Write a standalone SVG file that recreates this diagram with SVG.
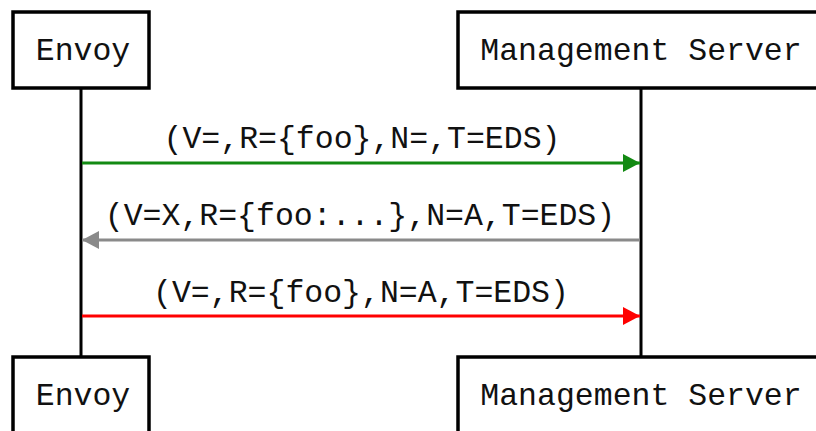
<svg xmlns="http://www.w3.org/2000/svg" width="816" height="431" viewBox="0 0 816 431">
  <style>
    .box { fill: #ffffff; stroke: #000000; stroke-width: 3.5; }
    .life { stroke: #000000; stroke-width: 3; }
    .t { font-family: "Liberation Mono", "DejaVu Sans Mono", monospace; font-size: 31.5px; fill: #111111; text-anchor: middle; }
    .msg { stroke-width: 3; fill: none; }
  </style>
  <defs>
    <marker id="headGreen" markerUnits="userSpaceOnUse" markerWidth="18" markerHeight="18" refX="17" refY="9" orient="auto">
      <path d="M0,0 L17,9 L0,18 Z" fill="#138a13"/>
    </marker>
    <marker id="headGray" markerUnits="userSpaceOnUse" markerWidth="18" markerHeight="18" refX="17" refY="9" orient="auto">
      <path d="M0,0 L17,9 L0,18 Z" fill="#8a8a8a"/>
    </marker>
    <marker id="headRed" markerUnits="userSpaceOnUse" markerWidth="18" markerHeight="18" refX="17" refY="9" orient="auto">
      <path d="M0,0 L17,9 L0,18 Z" fill="#ff0000"/>
    </marker>
  </defs>
  <rect width="816" height="431" fill="#ffffff"/>

  <!-- lifelines -->
  <g id="lifelines">
    <line class="life" x1="81" y1="88" x2="81" y2="357"/>
    <line class="life" x1="641" y1="88" x2="641" y2="357"/>
  </g>

  <!-- participants, top row -->
  <g id="envoy-top">
    <rect class="box" x="13" y="12" width="136" height="76"/>
    <text class="t" x="83" y="60">Envoy</text>
  </g>
  <g id="server-top">
    <rect class="box" x="458" y="12" width="366" height="76"/>
    <text class="t" x="641" y="60">Management Server</text>
  </g>

  <!-- participants, bottom row -->
  <g id="envoy-bottom">
    <rect class="box" x="13" y="357" width="136" height="76"/>
    <text class="t" x="83" y="405">Envoy</text>
  </g>
  <g id="server-bottom">
    <rect class="box" x="458" y="357" width="366" height="76"/>
    <text class="t" x="641" y="405">Management Server</text>
  </g>

  <!-- messages -->
  <g id="connectors">
    <line class="msg" x1="82" y1="163" x2="640" y2="163" stroke="#138a13" marker-end="url(#headGreen)"/>
    <line class="msg" x1="640" y1="240" x2="82" y2="240" stroke="#8a8a8a" marker-end="url(#headGray)"/>
    <line class="msg" x1="82" y1="316" x2="640" y2="316" stroke="#ff0000" marker-end="url(#headRed)"/>
    <text class="t" x="362" y="148">(V=,R={foo},N=,T=EDS)</text>
    <text class="t" x="360" y="225">(V=X,R={foo:...},N=A,T=EDS)</text>
    <text class="t" x="361" y="302">(V=,R={foo},N=A,T=EDS)</text>
  </g>
</svg>
